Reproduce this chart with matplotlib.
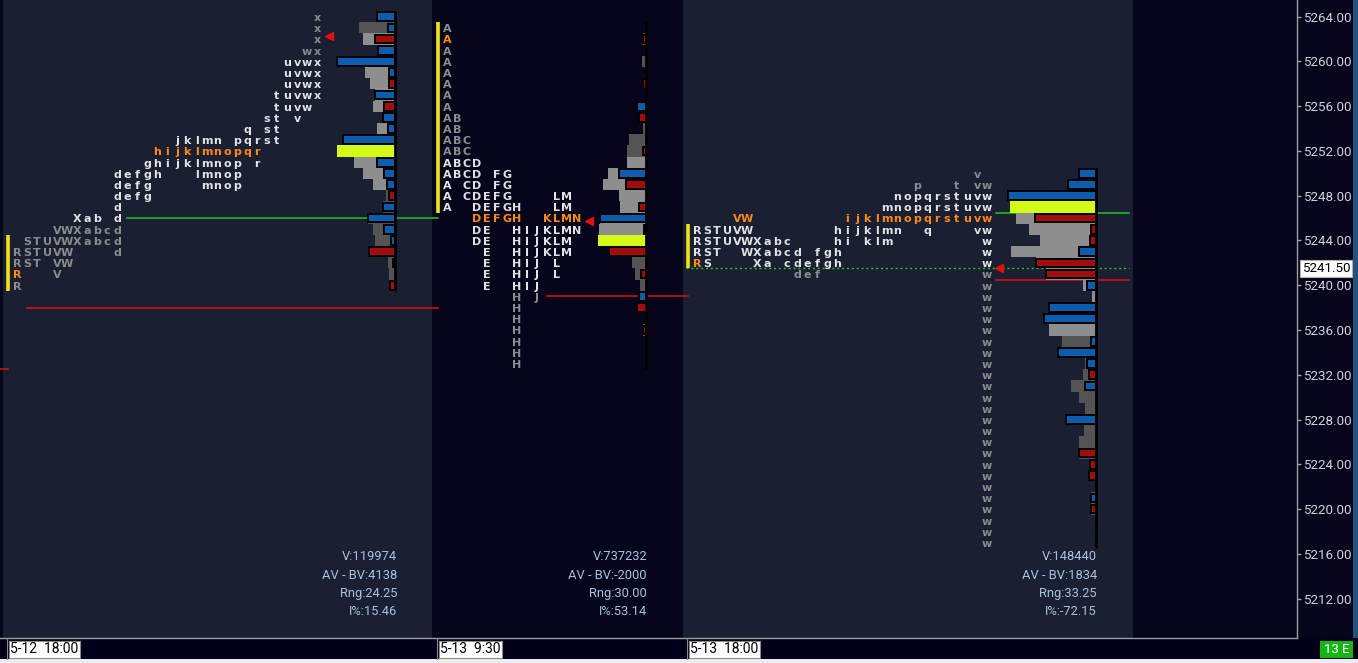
import matplotlib
matplotlib.use("Agg")
import matplotlib.pyplot as plt
from matplotlib.patches import Rectangle
from matplotlib.transforms import blended_transform_factory
import numpy as np

plt.rcParams['font.family'] = ['Noto Sans', 'DejaVu Sans']

# ---------------------------------------------------------------- data
ON_PERIODS = "RSTUVWXabcdefghijklmnopqrstuvwx"
RTH_PERIODS = "ABCDEFGHIJKLMN"

# session 1 : overnight 5-12 18:00
s1_label = "5-12  18:00"
s1_top = 5264
s1_tpo = ["x", "x", "x", "wx", "uvwx", "uvwx", "uvwx", "tuvwx", "tuvw", "stv",
          "qst", "jklmnpqrst", "hijklmnopqr", "ghijklmnopr", "defghlmnop",
          "defgmnop", "defg", "d", "Xabd", "VWXabcd", "STUVWXabcd", "RSTUVWd",
          "RSTVW", "RV", "R"]
s1_open = 5241
s1_close = 5262.25
s1_tpoc = 5252
s1_tpo_va = (5260, 5246)
s1_vol = [18, 36, 32, 17, 58, 30, 25, 20, 22, 12, 18, 52, 58, 41, 32, 22, 9, 12,
          27, 22, 20, 26, 7, 6, 5]
s1_delta = [18, 7, -20, 17, 58, 6, -6, 20, -11, 12, 7, 52, 0, 18, 11, 8, -6, 12,
            27, 11, 4, -26, -2, 0, -5]
s1_vpoc = 5252
s1_vol_va = (5262, 5249)
s1_green = [5246]
s1_red = [5238]
s1_stats = ["V:119974", "AV - BV:4138", "Rng:24.25", "I%:15.46"]

# session 2 : RTH 5-13 9:30
s2_label = "5-13  9:30"
s2_top = 5263
s2_tpo = ["A", "A", "A", "A", "A", "A", "A", "A", "AB", "AB", "ABC", "ABC",
          "ABCD", "ABCDFG", "ACDFG", "ACDEFGLM", "ADEFGHLM", "DEFGHKLMN",
          "DEHIJKLMN", "DEHIJKLM", "EHIJKLM", "EHIJL", "EHIJL", "EHIJ", "HJ",
          "H", "H", "H", "H", "H", "H"]
s2_open = 5262
s2_close = 5245.75
s2_tpoc = 5246
s2_tpo_va = (5251, 5240)
s2_vol = [0, 3, 0, 4, 0, 3, 0, 9, 7, 3, 17, 19, 19, 38, 43, 27, 26, 46, 47, 48,
          37, 14, 11, 6, 7, 9, 0, 3, 0, 0, 0]
s2_delta = [0, -3, 0, 0, 0, -3, 0, 9, -7, 0, 0, -3, 0, 27, -20, 0, -7, 46, 2, 0,
            -37, 0, -5, 0, 7, -9, 0, -3, 0, 0, 0]
s2_vpoc = 5244
s2_vol_va = (5251, 5243)
s2_green = []
s2_red = [5239]
s2_stats = ["V:737232", "AV - BV:-2000", "Rng:30.00", "I%:53.14"]

# session 3 : overnight 5-13 18:00
s3_label = "5-13  18:00"
s3_top = 5250
s3_tpo = ["v", "ptvw", "nopqrstuvw", "mnopqrstuvw", "VWijklmnopqrstuvw",
          "RSTUVWhijklmnqvw", "RSTUVWXabchiklmw", "RSTWXabcdfghw",
          "RSXacdefghw", "defw"] + ["w"] * 24
s3_open = 5242
s3_close = 5241.5
s3_tpoc = 5246
s3_tpo_va = (5248, 5242)
s3_vol = [17, 28, 88, 86, 80, 67, 56, 85, 60, 50, 13, 4, 47, 52, 47, 34, 38, 11,
          13, 25, 17, 11, 30, 12, 17, 17, 6, 7, 0, 5, 5, 0, 1, 0]
s3_delta = [17, 28, 88, 0, -61, -5, -6, 17, -60, -50, 9, 0, 47, 52, 0, 5, 38, 9,
            -7, 11, 0, 0, 30, 0, 0, -17, -6, -7, 0, 5, -5, 0, 0, 0]
s3_vpoc = 5247
s3_vol_va = (5250, 5236)
s3_green = [5246.5]
s3_red = [5240.5]
s3_stats = ["V:148440", "AV - BV:1834", "Rng:33.25", "I%:-72.15"]

last_price = 5241.50
prev_red = 5232.5
price_ticks = np.arange(5212, 5265, 4)

# ---------------------------------------------------------------- style
BG_DARK = '#05061b'
BG_PANEL = '#1a1f32'
C_WHITE = '#e2e2e2'
C_GRAY = '#8c8c8c'
C_ORANGE = '#ff8a12'
C_BLUE = '#0d5cae'
C_RED = '#a30c0c'
C_POC = '#d3fb17'
C_VA = '#8e8e8e'
C_OUT = '#545454'
C_IB = '#f2e21c'
C_LINE_G = '#1ec81e'
C_LINE_R = '#e31010'
C_STATS = '#a9c2e2'
TPO_FONT = ['DejaVu Sans']
UI_FONT = ['Roboto', 'DejaVu Sans']

W, H = 1358, 663
AX_W, AX_H = 1297, 638
PX = 11.19           # pixels per point
Y_REF_PX = 16.7      # pixel row of 5264
COL = 10             # column pitch in px


def px2price(ypx):
    return 5264 - (ypx - Y_REF_PX) / PX


fig = plt.figure(figsize=(W / 100, H / 100), dpi=100)
fig.patch.set_facecolor(BG_DARK)
ax = fig.add_axes([0, (H - AX_H) / H, AX_W / W, AX_H / H])
ax.set_facecolor(BG_DARK)
ax.set_xlim(0, AX_W)
ax.set_ylim(px2price(AX_H), px2price(0))

# panel backgrounds
for xa, xb, c in [(3, 432, BG_PANEL), (432, 683, BG_DARK), (683, 1133, BG_PANEL)]:
    ax.axvspan(xa, xb, color=c, lw=0, zorder=0)

sessions = [
    dict(periods=ON_PERIODS, top=s1_top, tpo=s1_tpo, open=s1_open, close=s1_close,
         tpoc=s1_tpoc, tva=s1_tpo_va, vol=s1_vol, delta=s1_delta, vpoc=s1_vpoc,
         vva=s1_vol_va, green=s1_green, red=s1_red, stats=s1_stats,
         x0=17, base=395, sx=397, gx=(127, 438), rx=(27, 438)),
    dict(periods=RTH_PERIODS, top=s2_top, tpo=s2_tpo, open=s2_open, close=s2_close,
         tpoc=s2_tpoc, tva=s2_tpo_va, vol=s2_vol, delta=s2_delta, vpoc=s2_vpoc,
         vva=s2_vol_va, green=s2_green, red=s2_red, stats=s2_stats,
         x0=447, base=646, sx=647, gx=(547, 688), rx=(547, 688)),
    dict(periods=ON_PERIODS, top=s3_top, tpo=s3_tpo, open=s3_open, close=s3_close,
         tpoc=s3_tpoc, tva=s3_tpo_va, vol=s3_vol, delta=s3_delta, vpoc=s3_vpoc,
         vva=s3_vol_va, green=s3_green, red=s3_red, stats=s3_stats,
         x0=697, base=1096, sx=1097, gx=(996, 1129), rx=(996, 1129)),
]

for s in sessions:
    n = len(s['tpo'])
    prices = s['top'] - np.arange(n)
    per = s['periods']
    x0 = s['x0']
    maxcol = 0
    ib_rows = []
    for p, row in zip(prices, s['tpo']):
        for ch in row:
            k = per.index(ch)
            maxcol = max(maxcol, k)
            if k < 2:
                ib_rows.append(p)
            if p == s['tpoc'] or (p == s['open'] and k == 0):
                c = C_ORANGE
            elif s['tva'][1] <= p <= s['tva'][0]:
                c = C_WHITE
            else:
                c = C_GRAY
            ax.text(x0 + k * COL, p - 0.39, ch, ha='center', va='baseline',
                    fontsize=8.0, fontweight='bold', color=c, family=TPO_FONT,
                    zorder=3)
    # initial balance bar
    ax.plot([x0 - 9, x0 - 9], [min(ib_rows) - 0.5, max(ib_rows) + 0.5],
            color=C_IB, lw=2.6, solid_capstyle='butt', zorder=3)

    # volume profile (gray steps)
    vol = np.array(s['vol'], float)
    vcol = []
    for p in prices:
        if p == s['vpoc']:
            vcol.append(C_POC)
        elif s['vva'][1] <= p <= s['vva'][0]:
            vcol.append(C_VA)
        else:
            vcol.append(C_OUT)
    ax.barh(prices, vol, left=s['base'] - vol, height=1.0, color=vcol,
            lw=0, zorder=2)
    # delta bars
    d = np.array(s['delta'], float)
    m = d != 0
    dcol = [C_BLUE if v > 0 else C_RED for v in d[m]]
    ax.barh(prices[m], np.abs(d[m]), left=s['base'] - np.abs(d[m]), height=0.78,
            color=dcol, edgecolor='black', lw=1.4, zorder=4)
    ax.plot([s['base'], s['base']], [prices[-1] - 0.5, prices[0] + 0.5],
            color='black', lw=2.0, solid_capstyle='butt', zorder=5)

    # reference lines
    for g in s['green']:
        ax.plot(s['gx'], [g, g], color=C_LINE_G, lw=1.1, zorder=1.5)
    for r in s['red']:
        ax.plot(s['rx'], [r, r], color=C_LINE_R, lw=1.1, zorder=1.5)

    # close marker
    ax.plot(x0 + maxcol * COL + 12, s['close'], marker='<', ms=5.5,
            color=C_LINE_R, mec=C_LINE_R, zorder=6)

    # stats
    for i, t in enumerate(s['stats']):
        ax.text(s['sx'], px2price(557 + i * 18.3), t, ha='right', va='center',
                fontsize=9.3, color=C_STATS, family=UI_FONT, zorder=6)

# current price dotted line in last session
ax.plot([686, 1129], [last_price, last_price], color=C_LINE_G, lw=1.0,
        ls=(0, (1.5, 2)), zorder=1.5)
ax.plot([0, 8], [prev_red, prev_red], color=C_LINE_R, lw=1.1, zorder=1.5)

# price axis
for sp in ['left', 'top']:
    ax.spines[sp].set_visible(False)
for sp in ['right', 'bottom']:
    ax.spines[sp].set_color('#9c9c9c')
    ax.spines[sp].set_linewidth(1.0)
ax.set_xticks([])
ax.yaxis.tick_right()
ax.set_yticks(price_ticks)
ax.set_yticklabels([f"{v:.2f}" for v in price_ticks])
ax.tick_params(axis='y', length=3, width=1, color='#9c9c9c', labelcolor='#cfd2d8',
               labelsize=9.6, pad=1.5)
for lab in ax.get_yticklabels():
    lab.set_family(UI_FONT)

ax.annotate(f"{last_price:.2f}", xy=(1, last_price),
            xycoords=blended_transform_factory(ax.transAxes, ax.transData),
            xytext=(3.5, 0), textcoords='offset points', ha='left', va='center',
            fontsize=9.6, color='black', family=UI_FONT,
            bbox=dict(boxstyle='square,pad=0.12', fc='white', ec='#b0b0b0', lw=0.8),
            annotation_clip=False, zorder=10)

# ---------------------------------------------------------------- chrome
ov = fig.add_axes([0, 0, 1, 1], zorder=-1)
ov.set_xlim(0, W)
ov.set_ylim(H, 0)
ov.axis('off')
ov.add_patch(Rectangle((0, 638), W, 21, fc='#00001a', ec='none'))
ov.add_patch(Rectangle((0, 659), W, 4, fc='#ececec', ec='none'))
ov.add_patch(Rectangle((1353, 0), 5, 638, fc='#23507c', ec='none'))

fg = fig.add_axes([0, 0, 1, 1], zorder=5)
fg.set_xlim(0, W)
fg.set_ylim(H, 0)
fg.axis('off')
for lab, xs in [(s1_label, 9), (s2_label, 439), (s3_label, 689)]:
    fg.plot([xs - 2, xs - 2], [638, 659], color='#8a8a8a', lw=0.8)
    fg.text(xs + 1, 649.3, lab, ha='left', va='center', fontsize=10,
            color='black', family=UI_FONT,
            bbox=dict(boxstyle='square,pad=0.1', fc='white', ec='#8a8a8a', lw=0.8))
fg.add_patch(Rectangle((1320, 641), 33, 17, fc='#17b417', ec='none'))
fg.text(1336.5, 649.5, "13 E", ha='center', va='center', fontsize=9.5,
        color='white', family=UI_FONT)

fig.savefig("out.png", dpi=100, facecolor=fig.get_facecolor())
